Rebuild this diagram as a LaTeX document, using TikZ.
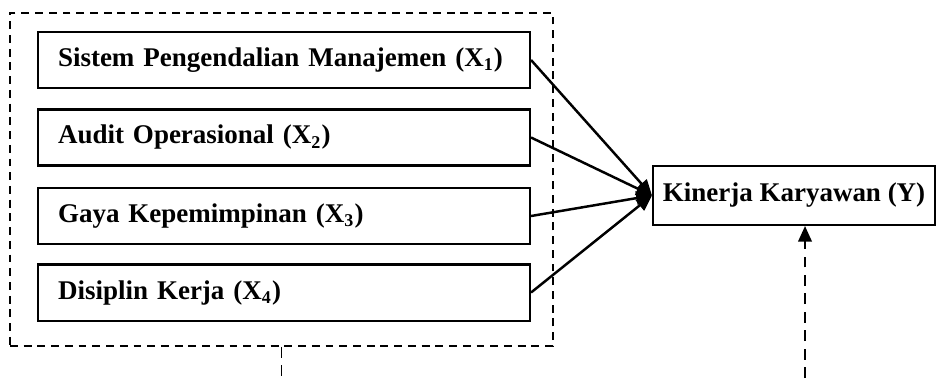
\documentclass[tikz,border=0pt]{standalone}
\usepackage{fontspec}
\setmainfont{Liberation Serif}
\usetikzlibrary{arrows.meta,positioning}

\begin{document}
\begin{tikzpicture}[x=0.015625cm,y=-0.015625cm,
  every node/.style={font=\fontsize{12pt}{14pt}\selectfont\bfseries},
  varbox/.style={draw,line width=0.9pt,anchor=west,text width=7.0625cm,
    inner xsep=0.3125cm,minimum height=0.875cm,align=left},
  ybox/.style={draw,line width=0.9pt,minimum width=4.406cm,minimum height=0.92cm},
  grpbox/.style={draw,line width=0.8pt,dash pattern=on 3.5pt off 2.6pt,
    minimum width=8.484cm,minimum height=5.2cm,inner sep=0pt},
  path/.style={-{Triangle[length=7pt,width=6pt]},line width=1.1pt},
  simul/.style={line width=1.1pt,dash pattern=on 4.8pt off 3.4pt}]

  \useasboundingbox (0,0) rectangle (945,378);

  % kelompok variabel bebas
  \node[grpbox] (grp) at (281.5,179.5) {};

  % variabel bebas X1 - X4
  \node[varbox] (x1) at (37,60) {Sistem Pengendalian Manajemen (X\textsubscript{1})};
  \node[varbox] (x2) at (37,137.5) {Audit Operasional (X\textsubscript{2})};
  \node[varbox] (x3) at (37,216) {Gaya Kepemimpinan (X\textsubscript{3})};
  \node[varbox] (x4) at (37,292.5) {Disiplin Kerja (X\textsubscript{4})};

  % variabel terikat Y
  \node[ybox] (y) at (794,195.5) {Kinerja Karyawan (Y)};

  % pengaruh parsial
  \draw[path] (x1.east) -- (y.west);
  \draw[path] (x2.east) -- (y.west);
  \draw[path] (x3.east) -- (y.west);
  \draw[path] (x4.east) -- (y.west);

  % pengaruh simultan
  \coordinate (gb) at (281.5,378);
  \coordinate (yb) at (805,378);
  \draw[simul,line width=0.8pt] (grp.south) -- (gb);
  \draw[simul,-{Triangle[length=7pt,width=6pt]}] (yb) -- (yb |- y.south);
\end{tikzpicture}
\end{document}
